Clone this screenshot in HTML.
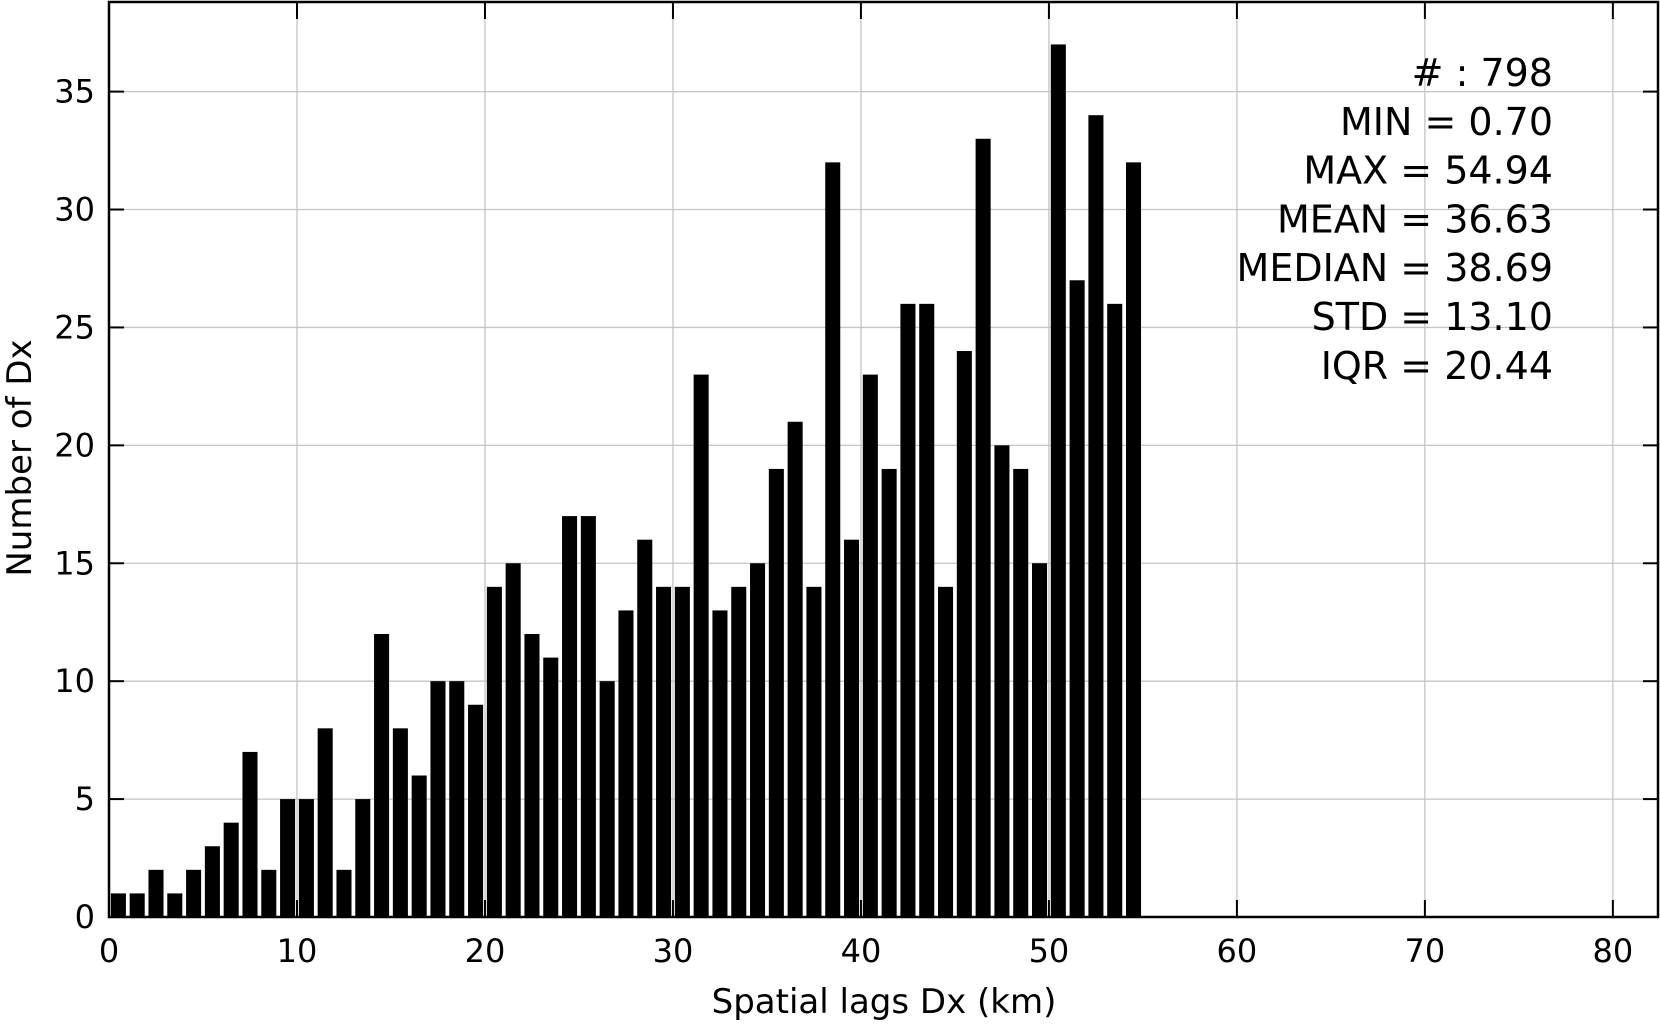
<!DOCTYPE html>
<html><head><meta charset="utf-8"><style>
html,body{margin:0;padding:0;background:#fff;}
svg text{font-family:"DejaVu Sans","Liberation Sans",sans-serif;fill:#000;}
</style></head><body>
<svg id="chart" width="1660" height="1025" viewBox="0 0 1660 1025" xmlns="http://www.w3.org/2000/svg">
<g id="grid"></g>
<g id="bars"></g>
<g id="axes"></g>
<g id="stats"></g>
<text x="884" y="1013" font-size="34" text-anchor="middle">Spatial lags Dx (km)</text>
<text transform="translate(31,458) rotate(-90)" font-size="34" text-anchor="middle">Number of Dx</text>
</svg>
<script>
const counts=[1,1,2,1,2,3,4,7,2,5,5,8,2,5,12,8,6,10,10,9,14,15,12,11,17,17,10,13,16,14,14,23,13,14,15,19,21,14,32,16,23,19,26,26,14,24,33,20,19,15,37,27,34,26,32];
const binStart=0;
const binWidth=1;
const xTicks=[0,10,20,30,40,50,60,70,80];
const yTicks=[0,5,10,15,20,25,30,35];
const statsLines=["# : 798","MIN = 0.70","MAX =  54.94","MEAN = 36.63","MEDIAN = 38.69","STD = 13.10","IQR = 20.44"];
const L=109,R=1658,T=2,B=917,XMAX=82.4,YMAX=38.8;
const xs=v=>L+(R-L)*v/XMAX;
const ys=v=>B-(B-T)*v/YMAX;
const NS="http://www.w3.org/2000/svg";
function mk(t,a,p){const e=document.createElementNS(NS,t);for(const k in a)e.setAttribute(k,a[k]);p.appendChild(e);return e;}
const grid=document.getElementById('grid'),bars=document.getElementById('bars'),axes=document.getElementById('axes'),stats=document.getElementById('stats');
xTicks.forEach(v=>{
 const l=mk('line',{x1:xs(v),x2:xs(v),y1:T,y2:B,stroke:'#c4c4c4','stroke-width':1.3},grid);
 
 
 const t1=mk('line',{x1:xs(v),x2:xs(v),y1:B,y2:B-17,stroke:'#000','stroke-width':2},axes);
 
 
 const t2=mk('line',{x1:xs(v),x2:xs(v),y1:T,y2:T+17,stroke:'#000','stroke-width':2},axes);
 
 
 const tx=mk('text',{x:xs(v),y:B+45,'font-size':32,'text-anchor':'middle'},axes);
 tx.textContent=v;
 
 
});
yTicks.forEach(v=>{
 const l=mk('line',{x1:L,x2:R,y1:ys(v),y2:ys(v),stroke:'#c4c4c4','stroke-width':1.3},grid);
 
 
 const t1=mk('line',{x1:L,x2:L+15,y1:ys(v),y2:ys(v),stroke:'#000','stroke-width':2},axes);
 
 
 const t2=mk('line',{x1:R,x2:R-15,y1:ys(v),y2:ys(v),stroke:'#000','stroke-width':2},axes);
 
 
 const tx=mk('text',{x:L-14,y:ys(v)+11,'font-size':32,'text-anchor':'end'},axes);
 tx.textContent=v;
 
 
});
counts.forEach((c,i)=>{
 const x0=binStart+i*binWidth+0.1*binWidth, x1=x0+0.8*binWidth;
 const r=mk('rect',{x:xs(x0),y:ys(c),width:xs(x1)-xs(x0),height:ys(0)-ys(c),fill:'#000'},bars);
 
 
});
const fr=mk('rect',{x:L,y:T,width:R-L,height:B-T,fill:'none',stroke:'#000','stroke-width':2.5},axes);


statsLines.forEach((s,i)=>{
 const t=mk('text',{x:1553,y:86+i*48.8,'font-size':38,'text-anchor':'end'},stats);
 t.textContent=s;
 
 
});
</script>
</body></html>
